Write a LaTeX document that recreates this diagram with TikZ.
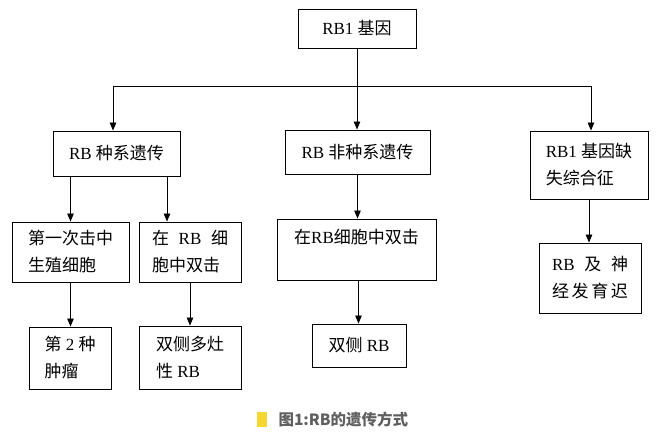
\documentclass[tikz,border=0pt]{standalone}
\usepackage{fontspec}
\setmainfont{Liberation Serif}
\newfontfamily\cjk{Noto Sans CJK SC}
\usetikzlibrary{arrows.meta,positioning,calc}
\definecolor{capgray}{RGB}{95,95,95}
\definecolor{capyellow}{RGB}{246,214,48}
\newcommand{\zh}[1]{{\cjk #1}}

\begin{document}
\begin{tikzpicture}[x=1pt, y=-1pt,
    every node/.style={font=\fontsize{17}{27}\selectfont},
    box/.style={draw, line width=0.9pt, inner sep=0pt, align=left},
    >={Triangle[length=8pt,width=6.5pt]}]
    \useasboundingbox (0,0) rectangle (659,438);
    % Top
    \node[box, minimum width=118pt, minimum height=39pt] (gene) at (357,28.5) {RB1 \zh{基因}};
    % Second row
    \node[box, minimum width=127pt, minimum height=45pt] (germ) at (116.5,153.5) {RB \zh{种系遗传}};
    \node[box, minimum width=145pt, minimum height=44pt] (nongerm) at (357.5,152) {RB \zh{非种系遗传}};
    \node[box, minimum width=118pt, minimum height=68pt] (del) at (589,165) {RB1 \zh{基因缺}\\\zh{失综合征}};
    % Third row
    \node[box, minimum width=117pt, minimum height=60pt] (first) at (70.5,252) {\zh{第一次击中}\\\zh{生殖细胞}};
    \node[box, minimum width=102pt, minimum height=60pt] (double) at (190,252) {\makebox[76pt][s]{\zh{在} RB \zh{细}}\\\zh{胞中双击}};
    \node[box, minimum width=159pt, minimum height=61pt] (mid) at (356.5,249.5) {\zh{在}RB\zh{细胞中双击}\\\mbox{}};
    \node[box, minimum width=102pt, minimum height=70pt] (delay) at (590,278) {\makebox[76pt]{RB\hfill\zh{及}\hfill\zh{神}}\\\makebox[76pt]{\zh{经}\hfill\zh{发}\hfill\zh{育}\hfill\zh{迟}}};
    % Bottom row
    \node[box, minimum width=82pt, minimum height=62pt] (second) at (70,358) {\zh{第} 2 \zh{种}\\\zh{肿瘤}};
    \node[box, minimum width=102pt, minimum height=63pt] (bilat) at (190,357.5) {\zh{双侧多灶}\\\zh{性} RB};
    \node[box, minimum width=94pt, minimum height=43pt] (midbil) at (359,345.5) {\zh{双侧} RB};
    % Split
    \coordinate (split) at (357,86);
    \coordinate (splitL) at (113,86);
    \coordinate (splitR) at (591,86);
    \draw[line width=0.9pt] (gene.south) -- (split);
    \draw[line width=0.9pt] (splitL) -- (splitR);
    \draw[->, line width=0.9pt] (splitL) -- (splitL |- germ.north);
    \draw[->, line width=0.9pt] (split) -- (split |- nongerm.north);
    \draw[->, line width=0.9pt] (splitR) -- (splitR |- del.north);
    % Arrows
    \draw[->, line width=0.9pt] (first.north |- germ.south) -- (first.north);
    \draw[->, line width=0.9pt] ([xshift=-23pt]double.north |- germ.south) -- ([xshift=-23pt]double.north);
    \draw[->, line width=0.9pt] (first.south) -- (first.south |- second.north);
    \draw[->, line width=0.9pt] (double.south) -- (bilat.north);
    \draw[->, line width=0.9pt] (nongerm.south) -- (nongerm.south |- mid.north);
    \draw[->, line width=0.9pt] ([xshift=2pt]mid.south) -- ([xshift=2pt]mid.south |- midbil.north);
    \draw[->, line width=0.9pt] (del.south) -- (del.south |- delay.north);
    % Caption
    \fill[capyellow] (257,412) rectangle (267,427);
    \node[font=\cjk\bfseries\fontsize{15.5}{17}\selectfont, text=capgray, anchor=west] (cap) at (275,420) {图1:RB的遗传方式};
\end{tikzpicture}
\end{document}
